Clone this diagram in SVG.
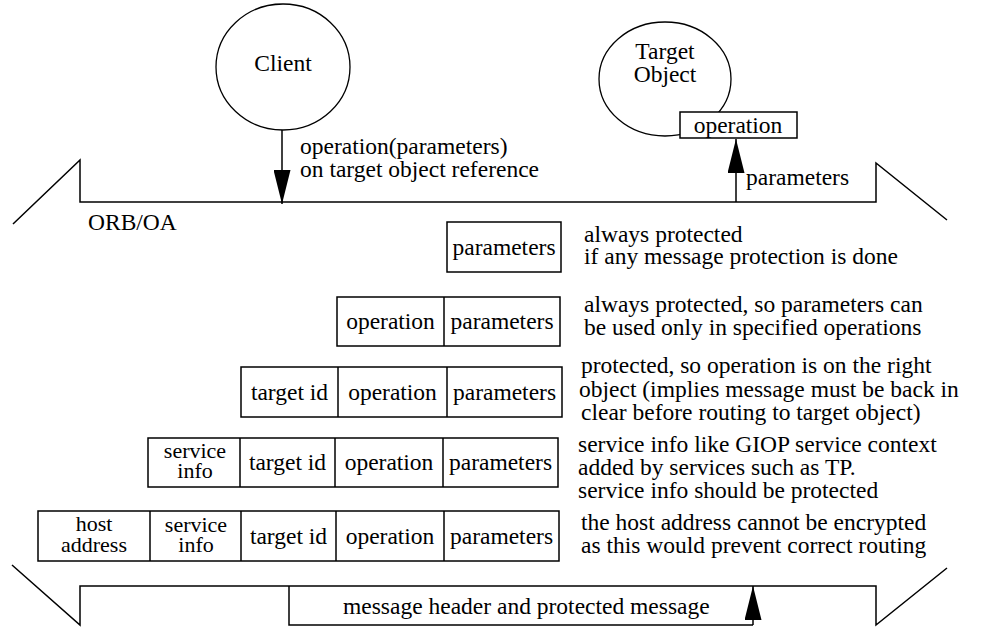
<svg xmlns="http://www.w3.org/2000/svg" width="985" height="627" viewBox="0 0 985 627" font-family="'Liberation Serif', 'Times New Roman', Tinos, 'DejaVu Serif', serif">
<style>
text{font-family:'Liberation Serif','Times New Roman',Tinos,'DejaVu Serif',serif;font-size:23.5px;fill:#000}
.c{text-anchor:middle}
.s{font-size:22px}
.ln{fill:none;stroke:#000;stroke-width:1.5}
.bx{fill:#fff;stroke:#000;stroke-width:1.5}
.ci{fill:#fff;stroke:#000;stroke-width:1.3}
</style>
<defs>
<marker id="ah" markerWidth="34" markerHeight="17" refX="34" refY="8.5" orient="auto" markerUnits="userSpaceOnUse" viewBox="0 0 34 17">
<path d="M0,0 L34,8.5 L0,17 Z" fill="#000"/>
</marker>
</defs>
<rect width="985" height="627" fill="#fff"/>

<g id="orb-top">
<path class="ln" d="M13,224 L80,160 L80,202 L876,202 L876,163 L947,220"/>
<text x="88" y="230">ORB/OA</text>
</g>

<g id="orb-bottom">
<path class="ln" d="M12,565 L80,625 L80,586 L876,586 L876,625 L947,568"/>
<path class="ln" d="M289,586 L289,625 L753,625"/>
<text x="343" y="614">message header and protected message</text>
</g>

<g id="client">
<ellipse class="ci" cx="283" cy="67" rx="67" ry="63"/>
<text class="c" x="283" y="71">Client</text>
</g>

<g id="target-object">
<ellipse class="ci" cx="665" cy="79" rx="66" ry="57"/>
<text class="c" x="665" y="59">Target</text>
<text class="c" x="665" y="82">Object</text>
<rect class="bx" x="680" y="112" width="117" height="26"/>
<text class="c" x="738" y="133">operation</text>
</g>

<g id="connectors">
<line class="ln" x1="282" y1="130" x2="282" y2="204" marker-end="url(#ah)"/>
<line class="ln" x1="736" y1="202" x2="736" y2="139" marker-end="url(#ah)"/>
<line class="ln" x1="753" y1="625" x2="753" y2="586" marker-end="url(#ah)"/>
</g>
<g id="connector-labels">
<text x="300" y="154">operation(parameters)</text>
<text x="300" y="177">on target object reference</text>
<text x="746" y="185">parameters</text>
</g>

<g id="row1">
<rect class="bx" x="447" y="222" width="114" height="50"/>
<text class="c" x="504" y="255">parameters</text>
</g>

<g id="row2">
<rect class="bx" x="337" y="297" width="223" height="49"/>
<line class="ln" x1="444" y1="297" x2="444" y2="346"/>
<text class="c" x="390.5" y="329">operation</text>
<text class="c" x="502" y="329">parameters</text>
</g>

<g id="row3">
<rect class="bx" x="241" y="367" width="321" height="50"/>
<line class="ln" x1="338" y1="367" x2="338" y2="417"/>
<line class="ln" x1="447" y1="367" x2="447" y2="417"/>
<text class="c" x="289.5" y="400">target id</text>
<text class="c" x="392.5" y="400">operation</text>
<text class="c" x="504.5" y="400">parameters</text>
</g>

<g id="row4">
<rect class="bx" x="148" y="438" width="410" height="49"/>
<line class="ln" x1="240" y1="438" x2="240" y2="487"/>
<line class="ln" x1="335" y1="438" x2="335" y2="487"/>
<line class="ln" x1="443" y1="438" x2="443" y2="487"/>
<text class="c s" x="195" y="458">service</text>
<text class="c s" x="195" y="478">info</text>
<text class="c" x="287.5" y="470">target id</text>
<text class="c" x="389" y="470">operation</text>
<text class="c" x="500.5" y="470">parameters</text>
</g>

<g id="row5">
<rect class="bx" x="38" y="511" width="521" height="50"/>
<line class="ln" x1="150" y1="511" x2="150" y2="561"/>
<line class="ln" x1="241" y1="511" x2="241" y2="561"/>
<line class="ln" x1="336" y1="511" x2="336" y2="561"/>
<line class="ln" x1="444" y1="511" x2="444" y2="561"/>
<text class="c s" x="94" y="531">host</text>
<text class="c s" x="94" y="552">address</text>
<text class="c s" x="196" y="532">service</text>
<text class="c s" x="196" y="552">info</text>
<text class="c" x="288.5" y="544">target id</text>
<text class="c" x="390" y="544">operation</text>
<text class="c" x="501.5" y="544">parameters</text>
</g>

<g id="notes">
<text x="584" y="242">always protected</text>
<text x="584" y="264">if any message protection is done</text>
<text x="584" y="312">always protected, so parameters can</text>
<text x="584" y="335">be used only in specified operations</text>
<text x="581" y="373">protected, so operation is on the right</text>
<text x="579" y="397">object (implies message must be back in</text>
<text x="581" y="420">clear before routing to target object)</text>
<text x="578" y="452">service info like GIOP service context</text>
<text x="578" y="475">added by services such as TP.</text>
<text x="578" y="498">service info should be protected</text>
<text x="581" y="530">the host address cannot be encrypted</text>
<text x="581" y="553">as this would prevent correct routing</text>
</g>
</svg>
